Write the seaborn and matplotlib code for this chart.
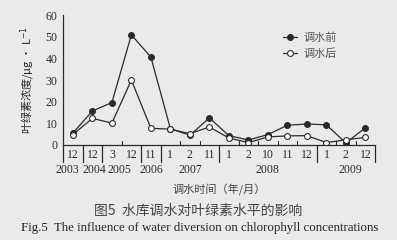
import matplotlib
matplotlib.use("Agg")
import matplotlib.pyplot as plt
import seaborn as sns
import numpy as np
import pandas as pd

months = ["12", "12", "3", "12", "11", "1", "2", "11", "1", "2", "10", "11", "12", "1", "2", "12"]
years = ["2003", "2004", "2005", "2005", "2006", "2007", "2007", "2007",
         "2008", "2008", "2008", "2008", "2008", "2009", "2009", "2009"]
before = [5.5, 15.7, 19.6, 50.9, 40.6, 7.5, 4.5, 12.5, 4.3, 2.3, 4.8, 9.1, 9.7, 9.3, 0.9, 8.0]
after = [4.8, 12.3, 10.1, 30.0, 7.7, 7.3, 5.2, 8.3, 3.2, 1.1, 3.7, 4.2, 4.3, 1.1, 2.4, 3.5]
series_names = ["调水前", "调水后"]
ylabel = "叶绿素浓度/μg · L$^{-1}$"
xlabel = "调水时间（年/月）"
caption_cn = "图5  水库调水对叶绿素水平的影响"
caption_en = "Fig.5  The influence of water diversion on chlorophyll concentrations"

sns.set_theme(style="white")
bg = "#e8ebea"
serif = ["Liberation Serif", "DejaVu Serif"]
cjk = ["Noto Sans CJK SC", "DejaVu Sans"]
plt.rcParams["font.family"] = ["Liberation Serif", "Noto Sans CJK SC", "DejaVu Sans"]
plt.rcParams["axes.unicode_minus"] = False

idx = np.arange(len(months))
df = pd.DataFrame({"idx": np.concatenate([idx, idx]),
                   "val": before + after,
                   "series": [series_names[0]] * len(idx) + [series_names[1]] * len(idx)})

fig = plt.figure(figsize=(3.97, 2.40), dpi=100, facecolor=bg)
ax = fig.add_axes([0.159, 0.396, 0.786, 0.541])
ax.set_facecolor(bg)

ink = "#2a2a2a"
sns.lineplot(data=df[df.series == series_names[0]], x="idx", y="val", ax=ax,
             color=ink, lw=0.9, marker="o", markersize=4.2, markerfacecolor=ink,
             markeredgecolor=ink, markeredgewidth=0.8, label=series_names[0])
sns.lineplot(data=df[df.series == series_names[1]], x="idx", y="val", ax=ax,
             color=ink, lw=0.9, marker="o", markersize=4.2, markerfacecolor="white",
             markeredgecolor=ink, markeredgewidth=0.8, label=series_names[1])

ax.set_xlim(-0.5, len(months) - 0.5)
ax.set_ylim(0, 60)
ax.set_yticks(np.arange(0, 61, 10))
ax.tick_params(axis="y", direction="in", length=3, width=0.8, color=ink,
               labelsize=8.5, labelcolor=ink, pad=4)
ax.set_xticks(idx)
ax.set_xticklabels(months, fontsize=8.5, color=ink)
ax.tick_params(axis="x", length=0, pad=3)
for lab in ax.get_yticklabels():
    lab.set_fontfamily(serif)
for lab in ax.get_xticklabels():
    lab.set_fontfamily(serif)

for s in ["top", "right"]:
    ax.spines[s].set_visible(False)
for s in ["left", "bottom"]:
    ax.spines[s].set_color(ink)
    ax.spines[s].set_linewidth(0.9)

# separators between categories
trans = ax.get_xaxis_transform()
for b in range(len(months) + 1):
    x = b - 0.5
    if b == 0 or b == len(months) or years[b] != years[b - 1]:
        ax.plot([x, x], [0, -0.13], transform=trans, color=ink, lw=0.9, clip_on=False)
    else:
        ax.plot([x, x], [0, 0.03], transform=trans, color=ink, lw=0.8, clip_on=False)

# year labels (first two nudged apart as in the original)
uniq = []
for y in years:
    if y not in uniq:
        uniq.append(y)
nudge = {"2003": -0.3, "2004": 0.1, "2005": -0.1, "2009": 0.25}
for y in uniq:
    pos = [i for i, yy in enumerate(years) if yy == y]
    ax.text(np.mean(pos) + nudge.get(y, 0), -0.19, y, transform=trans, ha="center",
            va="center", fontsize=8.5, color=ink, family=serif)

ax.set_xlabel("")
ax.set_ylabel(ylabel, fontsize=8, color=ink, family=cjk, labelpad=6)

leg = ax.legend(loc="upper right", bbox_to_anchor=(0.91, 0.945), frameon=False,
                handlelength=1.3, handletextpad=0.6, labelspacing=0.5,
                prop={"family": cjk, "size": 8})
for t in leg.get_texts():
    t.set_color("#555555")

fig.text(0.552, 1 - 190 / 240, xlabel, ha="center", va="center", fontsize=8,
         color="#444444", family=cjk)
fig.text(0.498, 1 - 211 / 240, caption_cn, ha="center", va="center", fontsize=10,
         color="#444444", family=cjk)
fig.text(0.503, 1 - 228 / 240, caption_en, ha="center", va="center", fontsize=9.3,
         color="#222222", family=serif)

fig.savefig("out.png", dpi=100, facecolor=bg)
